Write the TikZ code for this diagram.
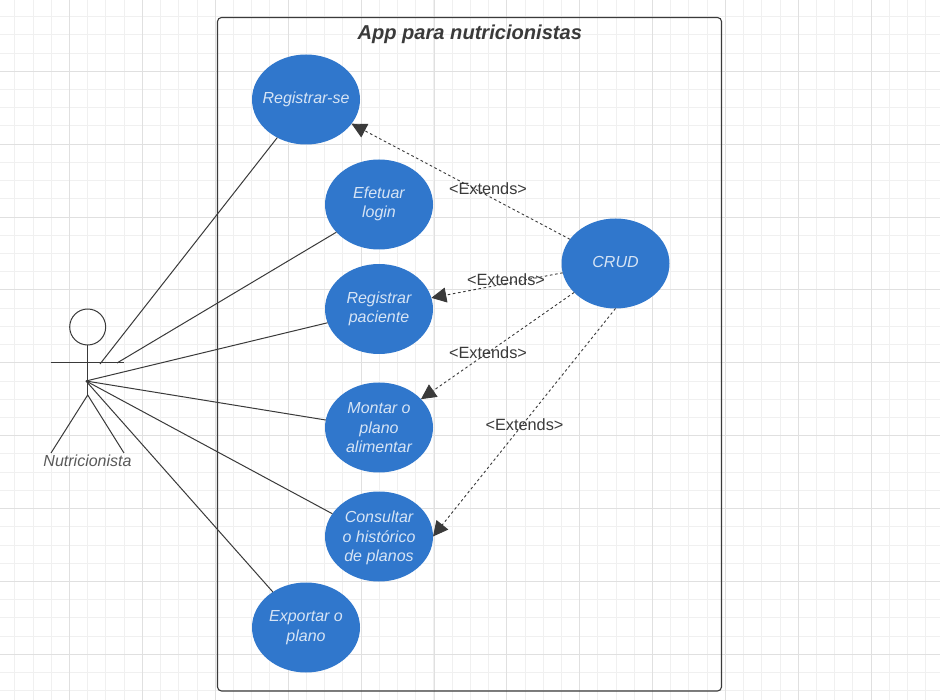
\documentclass[tikz,border=0pt]{standalone}
\usepackage{fontspec}
\setmainfont{Liberation Sans}
\usetikzlibrary{shapes.geometric,arrows.meta}
\definecolor{gridminor}{HTML}{F0F0F0}
\definecolor{gridmajor}{HTML}{E0E0E0}
\definecolor{usefill}{HTML}{3077CC}
\definecolor{usetext}{HTML}{D6E4F5}
\definecolor{inkdark}{HTML}{3A3A3A}
\tikzset{
  usecase/.style={ellipse,fill=usefill,minimum width=108pt,minimum height=90pt,inner sep=0pt,outer sep=0pt},
  usetextlabel/.style={text=usetext,inner sep=0pt,align=center,font=\fontsize{16}{19.5}\selectfont\itshape},
  assoc/.style={draw=inkdark,line width=1pt},
  ext/.style={draw=inkdark,line width=0.9pt,dash pattern=on 2.6pt off 2.6pt,-{Triangle[length=15pt,width=15pt,fill=inkdark]}},
  extlabel/.style={text=inkdark,font=\fontsize{16.3}{19}\selectfont,inner sep=0pt},
}
\begin{document}
\begin{tikzpicture}[x=1pt,y=-1pt]
\useasboundingbox (0,0) rectangle (940,700);
\fill[white] (0,0) rectangle (940,700);
% grid
\foreach \k in {-3,...,48}{
  \pgfmathsetmacro{\gx}{69.5+18.22*\k}
  \draw[gridminor,line width=1pt] (\gx,0) -- (\gx,700);
  \pgfmathsetmacro{\gy}{71.3+18.22*\k}
  \draw[gridminor,line width=1pt] (0,\gy) -- (940,\gy);
}
\foreach \k in {0,...,11}{
  \pgfmathsetmacro{\gx}{69.5+72.9*\k}
  \draw[gridmajor,line width=1pt] (\gx,0) -- (\gx,700);
}
\foreach \k in {0,...,8}{
  \pgfmathsetmacro{\gy}{71.3+72.9*\k}
  \draw[gridmajor,line width=1pt] (0,\gy) -- (940,\gy);
}
% system boundary
\draw[inkdark,line width=1.1pt,rounded corners=4pt] (217.5,17.5) rectangle (721.5,691);
\node[text=inkdark,font=\fontsize{20.1}{24}\selectfont\bfseries\itshape,inner sep=0pt] (title) at (469.8,34) {App para nutricionistas};
% use cases
\node[usecase] (reg) at (306,99.5) {};
\node[usecase] (login) at (379,204.5) {};
\node[usecase] (pac) at (379,309) {};
\node[usecase] (plano) at (379,427.5) {};
\node[usecase] (hist) at (379,536.5) {};
\node[usecase] (exp) at (306,627.5) {};
\node[usecase] (crud) at (615.5,263.5) {};
\node[usetextlabel] (regt) at (306,99) {Registrar-se};
\node[usetextlabel] (logint) at (379,204) {Efetuar\\login};
\node[usetextlabel] (pact) at (379,309) {Registrar\\paciente};
\node[usetextlabel] (planot) at (379,428) {Montar o\\plano\\alimentar};
\node[usetextlabel] (histt) at (379,538) {Consultar\\o histórico\\de planos};
\node[usetextlabel] (expt) at (306,627.5) {Exportar o\\plano};
\node[usetextlabel] (crudt) at (615.5,261.5) {CRUD};
% actor
\node[circle,draw=inkdark,line width=1pt,minimum size=36pt,inner sep=0pt,outer sep=0pt] (head) at (87.7,327) {};
\coordinate (hip) at (87.7,395);
\coordinate (armL) at (51,363);
\coordinate (armR) at (124,363);
\coordinate (footL) at (51,453);
\coordinate (footR) at (124,453);
\coordinate (hub) at (86,381);
\coordinate (hubA) at (100,364);
\coordinate (hubB) at (117,363);
\draw[assoc] (head.south) -- (hip);
\draw[assoc] (armL) -- (armR);
\draw[assoc] (footL) -- (hip) -- (footR);
\node[text=black!65,font=\fontsize{16}{19}\selectfont\itshape,inner sep=0pt] (actor) at (87.5,461) {Nutricionista};
% associations
\draw[assoc] (hubA) -- (reg.233);
\draw[assoc] (hubB) -- (login.213);
\draw[assoc] (hub) -- (pac.195);
\draw[assoc] (hub) -- (plano.172);
\draw[assoc] (hub) -- (hist.154);
\draw[assoc] (hub) -- (exp.133);
% extends
\draw[ext] (crud.152) -- (reg.-28);
\draw[ext] (crud.190) -- (pac.12.5);
\draw[ext] (crud.215) -- (plano.34.5);
\draw[ext] (crud.-90) -- (hist.0);
\node[extlabel] (e1) at (488,188.5) {<Extends>};
\node[extlabel] (e2) at (506,280) {<Extends>};
\node[extlabel] (e3) at (488,352.5) {<Extends>};
\node[extlabel] (e4) at (524.5,425) {<Extends>};
\end{tikzpicture}
\end{document}
